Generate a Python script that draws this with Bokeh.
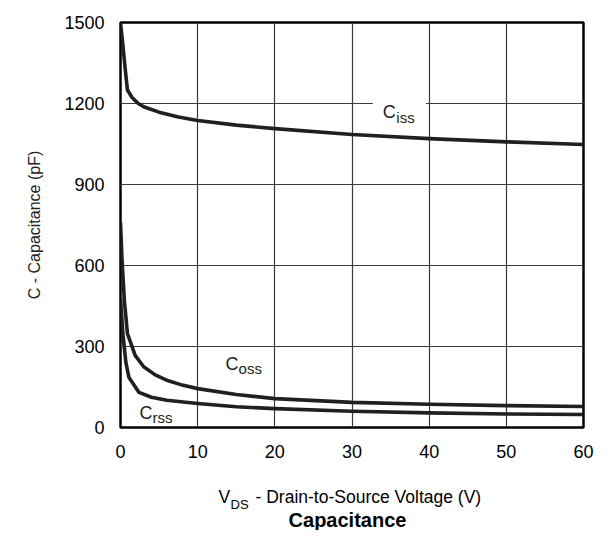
from bokeh.plotting import figure
from bokeh.models import Range1d, Label, FixedTicker
from bokeh.layouts import column
from bokeh.embed import file_html
from bokeh.resources import INLINE

# Data
ciss_v = [0, 0.3, 0.6, 0.9, 1.5, 2.3, 3, 5, 7.5, 10, 15, 20, 30, 40, 50, 60]
ciss_c = [1500, 1420, 1330, 1250, 1222, 1200, 1188, 1168, 1150, 1137, 1120, 1107, 1085, 1070, 1058, 1048]

coss_v = [0, 0.2, 0.5, 0.9, 1.9, 3, 4.5, 6.1, 8, 10, 15, 20, 30, 40, 50, 60]
coss_c = [760, 620, 470, 348, 267, 225, 195, 174, 157, 144, 122, 107, 93, 86, 81, 78]

crss_v = [0, 0.3, 0.7, 1.1, 2.4, 4, 6, 10, 15, 20, 30, 40, 50, 60]
crss_c = [480, 350, 240, 185, 130, 112, 101, 89, 77, 70, 60, 54, 50, 48]

x_ticks = [0, 10, 20, 30, 40, 50, 60]
y_ticks = [0, 300, 600, 900, 1200, 1500]

FONT = "Liberation Sans"
INK = "#231f20"

p = figure(width=603, height=470, output_backend="svg", toolbar_location=None,
           x_range=Range1d(0, 60), y_range=Range1d(0, 1500),
           min_border_left=120, min_border_right=20, min_border_top=22, min_border_bottom=43)

p.background_fill_color = "white"
p.outline_line_color = "black"
p.outline_line_width = 2.5

for ax in (p.xaxis[0], p.yaxis[0]):
    ax.axis_line_color = None
    ax.major_tick_line_color = None
    ax.minor_tick_line_color = None
    ax.major_label_text_font = FONT
    ax.major_label_text_font_size = "18px"
    ax.major_label_text_color = "black"

p.xaxis[0].ticker = FixedTicker(ticks=x_ticks)
p.yaxis[0].ticker = FixedTicker(ticks=y_ticks)
p.xaxis[0].major_label_standoff = 11
p.yaxis[0].major_label_standoff = 10

p.yaxis[0].axis_label = "C - Capacitance (pF)"
p.yaxis[0].axis_label_text_font = FONT
p.yaxis[0].axis_label_text_font_style = "normal"
p.yaxis[0].axis_label_text_font_size = "16px"
p.yaxis[0].axis_label_text_color = "#222222"
p.yaxis[0].axis_label_standoff = 18

p.xgrid.ticker = FixedTicker(ticks=x_ticks)
p.ygrid.ticker = FixedTicker(ticks=y_ticks)
for g in (p.xgrid[0], p.ygrid[0]):
    g.grid_line_color = "#3a3a3a"
    g.grid_line_width = 1.2

# white box behind the Ciss label
p.quad(left=[32.7], right=[39.6], bottom=[1118], top=[1212], fill_color="white", line_color=None)

for xs, ys in ((ciss_v, ciss_c), (coss_v, coss_c), (crss_v, crss_c)):
    p.line(xs, ys, line_color=INK, line_width=3.6, line_join="round")

def add(fig, text, x, y, size, style="normal", align="left", color=INK):
    fig.add_layout(Label(x=x, y=y, text=text, text_font=FONT, text_font_size=size,
                         text_font_style=style, text_align=align, text_baseline="middle",
                         text_color=color))

add(p, "C", 34.0, 1167, "18px")
add(p, "iss", 35.75, 1147, "15px")
add(p, "C", 13.6, 237, "18px")
add(p, "oss", 15.3, 218, "15px")
add(p, "C", 2.46, 52, "18px")
add(p, "rss", 4.15, 36, "15px")

# bottom caption strip; its frame is aligned with the plot frame (page x 120..583), y downward
cap = figure(width=603, height=60, output_backend="svg", toolbar_location=None,
             x_range=Range1d(120, 583), y_range=Range1d(60, 0),
             min_border_left=0, min_border_right=0, min_border_top=0, min_border_bottom=0)
cap.axis.visible = False
cap.grid.visible = False
cap.outline_line_color = None

add(cap, "V", 218, 26, "17.5px", color="black")
add(cap, "DS", 230, 34, "13px", color="black")
add(cap, "- Drain-to-Source Voltage (V)", 255, 26, "17.5px", color="black")
add(cap, "Capacitance", 347, 49, "20px", style="bold", align="center", color="black")

layout = column(p, cap, spacing=0)
open("out.html", "w").write(file_html(layout, INLINE))
